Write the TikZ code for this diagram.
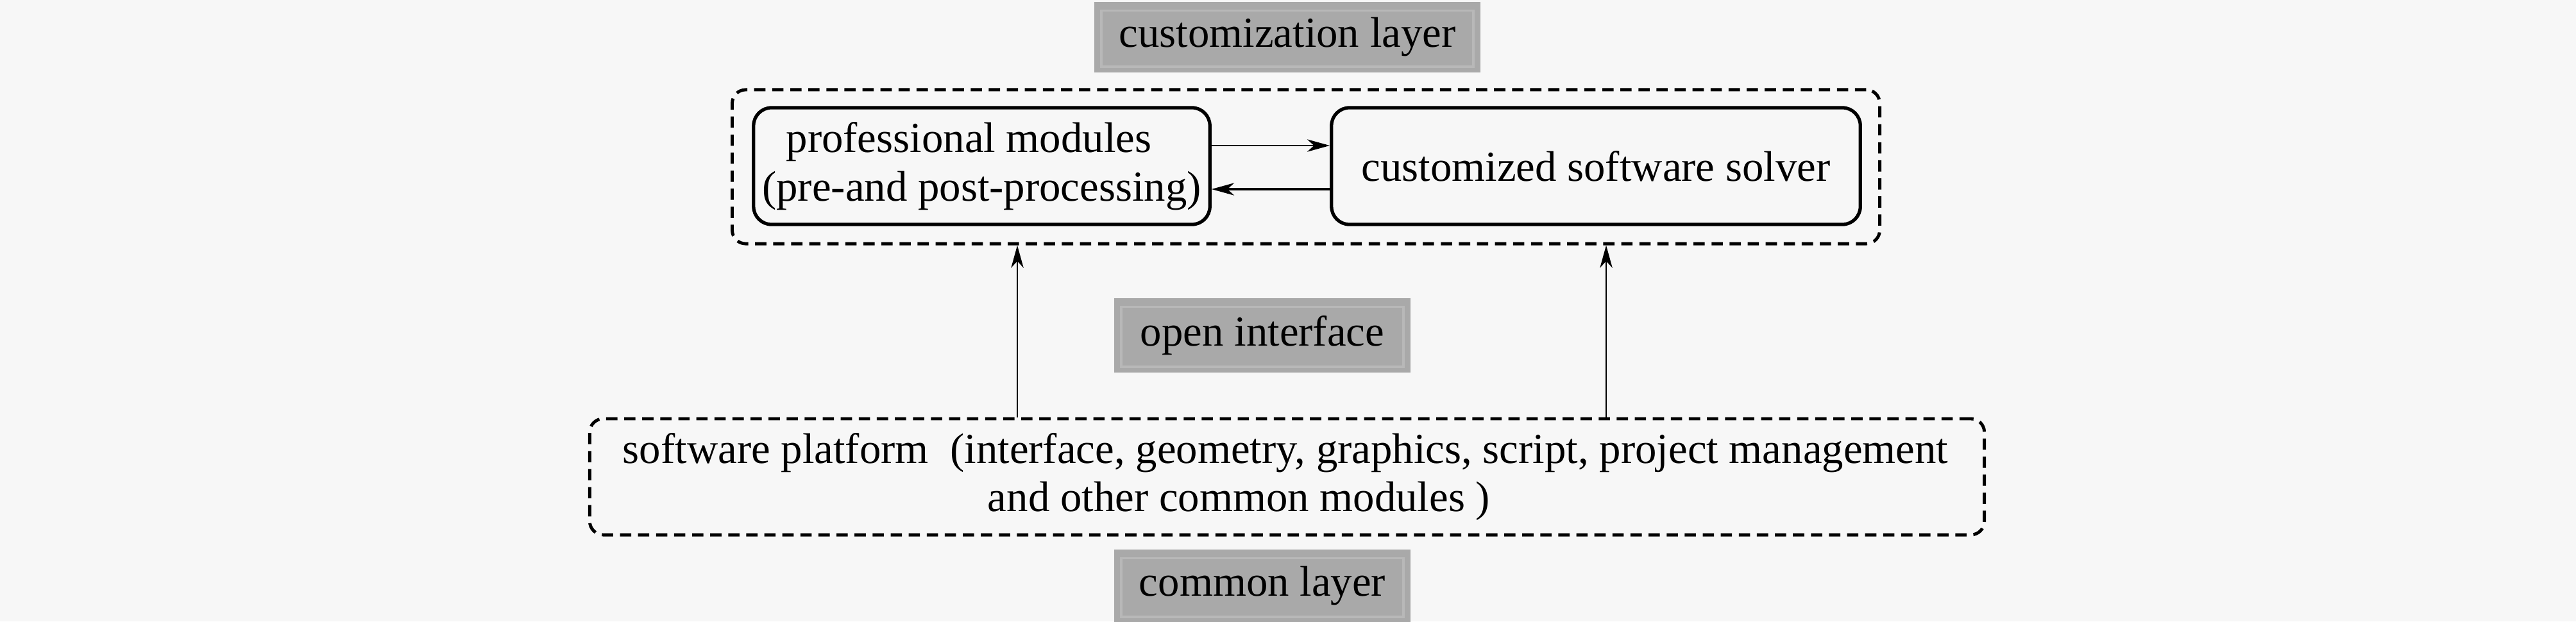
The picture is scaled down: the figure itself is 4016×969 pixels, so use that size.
\documentclass[tikz,border=0pt]{standalone}
\usepackage{fontspec}
\setmainfont{Liberation Serif}
\usetikzlibrary{arrows.meta,calc}
\definecolor{bg}{RGB}{247,247,247}
\definecolor{lbl}{RGB}{169,169,169}
\definecolor{lblhi}{RGB}{184,184,184}
\begin{document}
\begin{tikzpicture}[x=0.01cm,y=-0.01cm,
  font=\fontsize{19}{21.5}\selectfont,
  labelbox/.style={fill=lbl, inner sep=0pt, minimum width=4.62cm, minimum height=1.16cm},
  dashbox/.style={draw, line width=1.4pt, dash pattern=on 5pt off 3pt, rounded corners=6pt, inner sep=0pt},
  modbox/.style={draw, line width=1.5pt, rounded corners=8pt, inner sep=0pt, minimum height=1.82cm, align=center},
  arr/.style={-{Stealth[length=10pt,width=5.5pt,inset=3pt]}, line width=0.8pt}]
\useasboundingbox (0,0) rectangle (4016,969);
\fill[bg] (0,0) rectangle (4016,969);

% label boxes
\node[labelbox, minimum width=6.02cm, minimum height=1.10cm] (cust) at (2007,58) {};
\node[labelbox] (open) at (1968,523) {};
\node[labelbox, minimum height=1.14cm] (comm) at (1968,914) {};
\foreach \n in {cust,open,comm}{
  \draw[lblhi, line width=1pt] ($(\n.south west)+(12,-10)$) rectangle ($(\n.north east)+(-12,14)$);
}
\node (custt) at (cust) {customization layer};
\node (opent) at (open) {open interface};
\node (commt) at (comm) {common layer};

% customization layer group
\node[dashbox, minimum width=17.88cm, minimum height=2.40cm] (outer) at (2036,260) {};
\node[modbox, minimum width=7.11cm] (pm) at (1530.5,259) {professional modules\hspace*{0.4cm}\\(pre-and post-processing)};
\node[modbox, minimum width=8.24cm] (cs) at (2488,259) {customized software solver};

\draw[arr] ($(pm.east)+(0,-32)$) -- ($(cs.west)+(0,-32)$);
\draw[arr, line width=1pt] ($(cs.west)+(0,36)$) -- ($(pm.east)+(0,36)$);

% common layer platform
\node[dashbox, minimum width=21.73cm, minimum height=1.81cm, align=center] (plat) at (2006.5,743.5)
  {software platform\ \ (interface, geometry, graphics, script, project management\hspace*{0.05cm}\\
   and other common modules )\hspace*{1.5cm}};

\coordinate (x1) at (1586,0);
\coordinate (x2) at (2504,0);
\draw[arr] (plat.north -| x1) -- (outer.south -| x1);
\draw[arr] (plat.north -| x2) -- (outer.south -| x2);
\end{tikzpicture}
\end{document}
